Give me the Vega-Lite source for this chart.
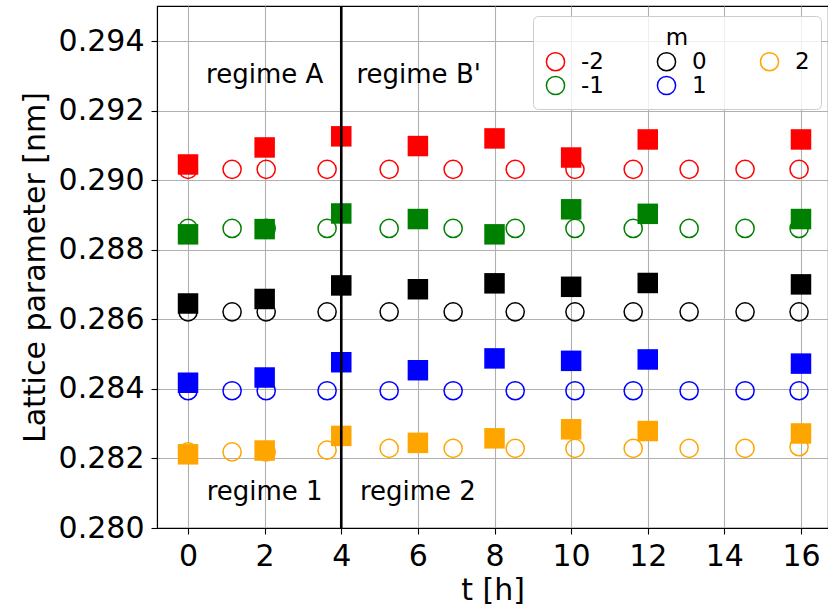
{
  "$schema": "https://vega.github.io/schema/vega-lite/v6.json",
  "width": 671,
  "height": 522,
  "autosize": {"type": "none"},
  "padding": {"left": 157, "top": 6, "right": 0, "bottom": 87},
  "background": "white",
  "config": {
    "font": "DejaVu Sans",
    "view": {"stroke": "black", "strokeWidth": 1.1},
    "axis": {
      "grid": true,
      "gridColor": "#b0b0b0",
      "gridWidth": 1.1,
      "domainColor": "black",
      "domainWidth": 1.1,
      "tickColor": "black",
      "tickWidth": 1.1,
      "tickSize": 6,
      "labelFontSize": 30,
      "labelColor": "black",
      "titleFontSize": 30,
      "titleFontWeight": "normal",
      "titleColor": "black",
      "labelPadding": 7
    },
    "legend": {
      "orient": "none",
      "legendX": 376,
      "legendY": 10,
      "columns": 3,
      "titleAnchor": "middle",
      "titleFontSize": 23,
      "titleFontWeight": "normal",
      "titleColor": "black",
      "labelFontSize": 23,
      "labelColor": "black",
      "symbolSize": 330,
      "symbolStrokeWidth": 1.5,
      "labelOffset": 14,
      "columnPadding": 50,
      "rowPadding": -2,
      "titlePadding": 0,
      "padding": 11,
      "fillColor": "rgba(255,255,255,0.8)",
      "strokeColor": "#cccccc",
      "cornerRadius": 5
    }
  },
  "datasets": {
    "pts": [
      {"t": 0, "a": 0.29032, "m": -2, "k": "o"},
      {"t": 1.15, "a": 0.29032, "m": -2, "k": "o"},
      {"t": 2.04, "a": 0.29032, "m": -2, "k": "o"},
      {"t": 3.63, "a": 0.29032, "m": -2, "k": "o"},
      {"t": 5.25, "a": 0.29032, "m": -2, "k": "o"},
      {"t": 6.92, "a": 0.29032, "m": -2, "k": "o"},
      {"t": 8.54, "a": 0.29032, "m": -2, "k": "o"},
      {"t": 10.1, "a": 0.29032, "m": -2, "k": "o"},
      {"t": 11.62, "a": 0.29032, "m": -2, "k": "o"},
      {"t": 13.08, "a": 0.29032, "m": -2, "k": "o"},
      {"t": 14.54, "a": 0.29032, "m": -2, "k": "o"},
      {"t": 15.95, "a": 0.29032, "m": -2, "k": "o"},
      {"t": 0, "a": 0.28862, "m": -1, "k": "o"},
      {"t": 1.15, "a": 0.28862, "m": -1, "k": "o"},
      {"t": 2.04, "a": 0.28862, "m": -1, "k": "o"},
      {"t": 3.63, "a": 0.28862, "m": -1, "k": "o"},
      {"t": 5.25, "a": 0.28862, "m": -1, "k": "o"},
      {"t": 6.92, "a": 0.28862, "m": -1, "k": "o"},
      {"t": 8.54, "a": 0.28862, "m": -1, "k": "o"},
      {"t": 10.1, "a": 0.28862, "m": -1, "k": "o"},
      {"t": 11.62, "a": 0.28862, "m": -1, "k": "o"},
      {"t": 13.08, "a": 0.28862, "m": -1, "k": "o"},
      {"t": 14.54, "a": 0.28862, "m": -1, "k": "o"},
      {"t": 15.95, "a": 0.28862, "m": -1, "k": "o"},
      {"t": 0, "a": 0.28622, "m": 0, "k": "o"},
      {"t": 1.15, "a": 0.28622, "m": 0, "k": "o"},
      {"t": 2.04, "a": 0.28622, "m": 0, "k": "o"},
      {"t": 3.63, "a": 0.28622, "m": 0, "k": "o"},
      {"t": 5.25, "a": 0.28622, "m": 0, "k": "o"},
      {"t": 6.92, "a": 0.28622, "m": 0, "k": "o"},
      {"t": 8.54, "a": 0.28622, "m": 0, "k": "o"},
      {"t": 10.1, "a": 0.28622, "m": 0, "k": "o"},
      {"t": 11.62, "a": 0.28622, "m": 0, "k": "o"},
      {"t": 13.08, "a": 0.28622, "m": 0, "k": "o"},
      {"t": 14.54, "a": 0.28622, "m": 0, "k": "o"},
      {"t": 15.95, "a": 0.28622, "m": 0, "k": "o"},
      {"t": 0, "a": 0.28395, "m": 1, "k": "o"},
      {"t": 1.15, "a": 0.28395, "m": 1, "k": "o"},
      {"t": 2.04, "a": 0.28395, "m": 1, "k": "o"},
      {"t": 3.63, "a": 0.28395, "m": 1, "k": "o"},
      {"t": 5.25, "a": 0.28395, "m": 1, "k": "o"},
      {"t": 6.92, "a": 0.28395, "m": 1, "k": "o"},
      {"t": 8.54, "a": 0.28395, "m": 1, "k": "o"},
      {"t": 10.1, "a": 0.28395, "m": 1, "k": "o"},
      {"t": 11.62, "a": 0.28395, "m": 1, "k": "o"},
      {"t": 13.08, "a": 0.28395, "m": 1, "k": "o"},
      {"t": 14.54, "a": 0.28395, "m": 1, "k": "o"},
      {"t": 15.95, "a": 0.28395, "m": 1, "k": "o"},
      {"t": 0, "a": 0.28219, "m": 2, "k": "o"},
      {"t": 1.15, "a": 0.28219, "m": 2, "k": "o"},
      {"t": 2.04, "a": 0.28219, "m": 2, "k": "o"},
      {"t": 3.63, "a": 0.28224, "m": 2, "k": "o"},
      {"t": 5.25, "a": 0.28229, "m": 2, "k": "o"},
      {"t": 6.92, "a": 0.28229, "m": 2, "k": "o"},
      {"t": 8.54, "a": 0.28229, "m": 2, "k": "o"},
      {"t": 10.1, "a": 0.28229, "m": 2, "k": "o"},
      {"t": 11.62, "a": 0.28229, "m": 2, "k": "o"},
      {"t": 13.08, "a": 0.28229, "m": 2, "k": "o"},
      {"t": 14.54, "a": 0.28229, "m": 2, "k": "o"},
      {"t": 15.95, "a": 0.28234, "m": 2, "k": "o"},
      {"t": 0, "a": 0.29046, "m": -2, "k": "s"},
      {"t": 2, "a": 0.29095, "m": -2, "k": "s"},
      {"t": 4, "a": 0.29127, "m": -2, "k": "s"},
      {"t": 6, "a": 0.29099, "m": -2, "k": "s"},
      {"t": 8, "a": 0.29121, "m": -2, "k": "s"},
      {"t": 10, "a": 0.29066, "m": -2, "k": "s"},
      {"t": 12, "a": 0.29118, "m": -2, "k": "s"},
      {"t": 16, "a": 0.29118, "m": -2, "k": "s"},
      {"t": 0, "a": 0.28845, "m": -1, "k": "s"},
      {"t": 2, "a": 0.2886, "m": -1, "k": "s"},
      {"t": 4, "a": 0.28905, "m": -1, "k": "s"},
      {"t": 6, "a": 0.28889, "m": -1, "k": "s"},
      {"t": 8, "a": 0.28845, "m": -1, "k": "s"},
      {"t": 10, "a": 0.28917, "m": -1, "k": "s"},
      {"t": 12, "a": 0.28904, "m": -1, "k": "s"},
      {"t": 16, "a": 0.28889, "m": -1, "k": "s"},
      {"t": 0, "a": 0.28646, "m": 0, "k": "s"},
      {"t": 2, "a": 0.28659, "m": 0, "k": "s"},
      {"t": 4, "a": 0.28698, "m": 0, "k": "s"},
      {"t": 6, "a": 0.28687, "m": 0, "k": "s"},
      {"t": 8, "a": 0.28704, "m": 0, "k": "s"},
      {"t": 10, "a": 0.28694, "m": 0, "k": "s"},
      {"t": 12, "a": 0.28705, "m": 0, "k": "s"},
      {"t": 16, "a": 0.28701, "m": 0, "k": "s"},
      {"t": 0, "a": 0.28418, "m": 1, "k": "s"},
      {"t": 2, "a": 0.28433, "m": 1, "k": "s"},
      {"t": 4, "a": 0.28477, "m": 1, "k": "s"},
      {"t": 6, "a": 0.28454, "m": 1, "k": "s"},
      {"t": 8, "a": 0.28488, "m": 1, "k": "s"},
      {"t": 10, "a": 0.28481, "m": 1, "k": "s"},
      {"t": 12, "a": 0.28485, "m": 1, "k": "s"},
      {"t": 16, "a": 0.28473, "m": 1, "k": "s"},
      {"t": 0, "a": 0.28212, "m": 2, "k": "s"},
      {"t": 2, "a": 0.28223, "m": 2, "k": "s"},
      {"t": 4, "a": 0.28265, "m": 2, "k": "s"},
      {"t": 6, "a": 0.28245, "m": 2, "k": "s"},
      {"t": 8, "a": 0.28258, "m": 2, "k": "s"},
      {"t": 10, "a": 0.28284, "m": 2, "k": "s"},
      {"t": 12, "a": 0.28279, "m": 2, "k": "s"},
      {"t": 16, "a": 0.28272, "m": 2, "k": "s"}
    ],
    "ann": [
      {"t": 2, "a": 0.2928, "label": "regime A"},
      {"t": 6.02, "a": 0.2928, "label": "regime B'"},
      {"t": 2, "a": 0.28081, "label": "regime 1"},
      {"t": 6, "a": 0.28081, "label": "regime 2"}
    ],
    "vline": [{"t": 4}]
  },
  "encoding": {
    "x": {
      "field": "t",
      "type": "quantitative",
      "scale": {"domain": [-0.81, 16.705], "nice": false, "zero": false},
      "axis": {"title": "t [h]", "values": [0, 2, 4, 6, 8, 10, 12, 14, 16], "titlePadding": 4}
    },
    "y": {
      "field": "a",
      "type": "quantitative",
      "scale": {"domain": [0.28, 0.29502], "nice": false, "zero": false},
      "axis": {"title": "Lattice parameter [nm]", "values": [0.28, 0.282, 0.284, 0.286, 0.288, 0.29, 0.292, 0.294], "format": ".3f", "titlePadding": 8}
    }
  },
  "layer": [
    {
      "data": {"name": "pts"},
      "transform": [{"filter": "datum.k === 'o'"}],
      "mark": {"type": "point", "shape": "circle", "filled": false, "size": 330, "strokeWidth": 1.5, "opacity": 1},
      "encoding": {
        "color": {
          "field": "m",
          "type": "nominal",
          "title": "m",
          "scale": {"domain": [-2, -1, 0, 1, 2], "range": ["#ff0000", "#008000", "#000000", "#0000ff", "#ffa500"]}
        }
      }
    },
    {
      "data": {"name": "pts"},
      "transform": [{"filter": "datum.k === 's'"}],
      "mark": {"type": "point", "shape": "square", "filled": true, "size": 420, "opacity": 1},
      "encoding": {
        "color": {
          "field": "m",
          "type": "nominal",
          "legend": null,
          "scale": {"domain": [-2, -1, 0, 1, 2], "range": ["#ff0000", "#008000", "#000000", "#0000ff", "#ffa500"]}
        }
      }
    },
    {
      "data": {"name": "vline"},
      "mark": {"type": "rule", "color": "black", "strokeWidth": 2.6},
      "encoding": {"x": {"field": "t", "type": "quantitative"}, "y": null}
    },
    {
      "data": {"name": "ann"},
      "mark": {"type": "text", "fontSize": 26, "align": "center", "baseline": "alphabetic", "color": "black"},
      "encoding": {"text": {"field": "label", "type": "nominal"}}
    }
  ],
  "resolve": {"scale": {"color": "independent"}, "legend": {"color": "independent"}}
}
